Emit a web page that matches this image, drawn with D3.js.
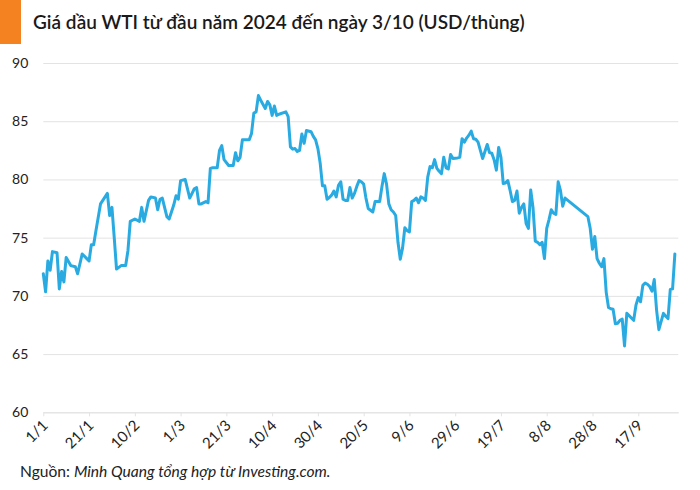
<!DOCTYPE html>
<html>
<head>
<meta charset="utf-8">
<script src="https://cdn.jsdelivr.net/npm/d3@7.9.0/dist/d3.min.js"></script>
<style>
  body { margin: 0; background: #fff; }
  svg { display: block; font-family: Lato, "Open Sans", sans-serif; }
  .axis path, .axis line { stroke: #e3e3e3; }
  .axis text { fill: #222; font-size: 14px; font-family: Lato, sans-serif; }
  .x-axis text { font-size: 15px; }
</style>
</head>
<body>
<svg id="chart" width="700" height="490"></svg>
<script>
// WTI price (USD/barrel), per month: day of month + price
const janDays = [1, 2, 3, 4, 5, 7, 8, 9, 10, 11, 13, 15, 16, 18, 20, 21, 22, 23, 24, 26, 28, 29, 30, 31];
const janWti  = [71.9, 70.35, 73.0, 72.2, 73.8, 73.7, 70.6, 72.1, 71.2, 73.3, 72.6, 72.5, 71.9, 73.6, 73.2, 73.0, 74.4, 74.4, 75.6, 77.9, 78.5, 78.8, 76.9, 77.6];
const febDays = [1, 2, 4, 6, 7, 8, 10, 12, 13, 14, 16, 17, 19, 20, 21, 22, 24, 25, 27, 28, 29];
const febWti  = [75.0, 72.3, 72.6, 72.6, 73.9, 76.4, 76.6, 76.4, 77.6, 76.4, 78.2, 78.5, 78.4, 77.4, 78.3, 78.4, 76.8, 76.6, 77.8, 78.6, 78.3];
const marDays = [1, 3, 5, 7, 8, 9, 10, 12, 13, 14, 15, 17, 18, 19, 20, 22, 24, 25, 26, 27, 28, 30, 31];
const marWti  = [79.9, 80.0, 78.4, 79.2, 79.3, 77.9, 77.9, 78.1, 78.0, 80.95, 81.0, 81.0, 82.5, 82.9, 81.7, 81.2, 81.2, 82.3, 81.6, 81.9, 83.4, 83.4, 83.4];
const aprDays = [1, 2, 3, 4, 5, 7, 8, 9, 10, 11, 12, 13, 16, 17, 18, 19, 20, 21, 22, 23, 24, 25, 27, 28, 29, 30];
const aprWti  = [83.95, 85.7, 85.8, 87.2, 86.8, 86.1, 86.7, 86.4, 85.5, 86.3, 85.5, 85.6, 85.8, 85.4, 82.8, 82.6, 82.65, 82.4, 82.5, 83.9, 83.1, 84.2, 84.1, 83.7, 83.4, 82.65];
const mayDays = [1, 2, 3, 4, 5, 6, 7, 8, 9, 10, 11, 12, 13, 14, 15, 16, 17, 18, 19, 20, 21, 22, 24, 25, 27, 28, 29, 30, 31];
const mayWti  = [81.4, 79.45, 79.45, 78.3, 78.45, 78.65, 79.0, 78.5, 79.5, 79.8, 78.3, 78.2, 78.2, 79.3, 78.4, 78.8, 79.4, 79.9, 79.8, 79.6, 78.4, 77.5, 77.2, 78.1, 78.1, 79.4, 80.5, 79.6, 77.9];
const junDays = [1, 2, 3, 4, 5, 6, 7, 8, 9, 10, 11, 12, 13, 14, 15, 16, 17, 18, 19, 20, 21, 22, 23, 24, 25, 26, 27, 28, 30];
const junWti  = [77.4, 77.2, 76.9, 74.6, 73.15, 74.1, 75.85, 75.6, 75.5, 78.1, 78.2, 78.4, 78.0, 78.5, 78.4, 78.2, 80.2, 81.1, 81.0, 81.7, 80.95, 80.7, 80.5, 81.9, 81.0, 80.9, 82.15, 81.8, 81.85];
const julDays = [1, 2, 3, 4, 5, 6, 7, 8, 9, 10, 11, 12, 13, 14, 15, 16, 17, 18, 19, 20, 21, 22, 23, 24, 25, 26, 27, 28, 29, 30, 31];
const julWti  = [81.9, 83.5, 83.2, 83.55, 83.8, 84.15, 83.5, 83.45, 83.2, 82.5, 81.8, 82.4, 83.0, 82.3, 82.25, 81.7, 80.8, 82.75, 81.9, 79.65, 79.7, 79.9, 79.05, 78.1, 78.2, 79.0, 77.1, 77.6, 77.9, 76.2, 75.8];
const augDays = [1, 2, 3, 4, 5, 6, 7, 8, 9, 10, 11, 12, 13, 14, 15, 16, 26, 27, 28, 29, 30, 31];
const augWti  = [79.1, 77.6, 74.7, 74.6, 74.4, 74.6, 73.2, 75.8, 76.55, 77.4, 77.1, 77.0, 79.8, 79.05, 77.7, 78.4, 76.8, 75.8, 74.0, 75.1, 73.2, 72.8];
const sepDays = [1, 2, 3, 4, 5, 6, 7, 8, 9, 10, 11, 12, 13, 14, 15, 16, 17, 18, 19, 20, 21, 22, 23, 24, 25, 26, 28, 29, 30];
const sepWti  = [72.5, 73.2, 70.3, 69.0, 68.9, 68.85, 67.6, 67.65, 67.9, 68.0, 65.7, 68.5, 68.3, 68.1, 67.9, 69.2, 69.85, 69.5, 70.9, 71.1, 71.0, 70.8, 70.4, 71.4, 68.8, 67.1, 68.5, 68.25, 68.05];
const octDays = [1, 2, 3];
const octWti  = [70.55, 70.6, 73.6];

const yTicks = [60, 65, 70, 75, 80, 85, 90];
const xTickLabels = ['1/1', '21/1', '10/2', '1/3', '21/3', '10/4', '30/4', '20/5', '9/6', '29/6', '19/7', '8/8', '28/8', '17/9'];

const titleText = 'Giá dầu WTI từ đầu năm 2024 đến ngày 3/10 (USD/thùng)';

const monthDays = [janDays, febDays, marDays, aprDays, mayDays, junDays, julDays, augDays, sepDays, octDays];
const monthWti = [janWti, febWti, marWti, aprWti, mayWti, junWti, julWti, augWti, sepWti, octWti];

let series = [];
monthDays.forEach((days, m) => {
    days.forEach((d, i) => series.push({ date: new Date(Date.UTC(2024, m, d)), value: monthWti[m][i] }));
});

const parseDM = d3.utcParse('%d/%m/%Y');
const tickDates = xTickLabels.map((t) => parseDM(t + '/2024'));

let svg = d3.select('#chart');

let x = d3.scaleUtc()
    .domain([new Date(Date.UTC(2024, 0, 1)), new Date(Date.UTC(2024, 9, 4, 12))])
    .range([43.3, 678.3]);
let y = d3.scaleLinear().domain([60, 90]).range([412.3, 63]);

// orange tab + title
svg.append('rect').attr('x', 0).attr('y', 0).attr('width', 21).attr('height', 44).attr('fill', '#f58220');
svg.append('text')
    .attr('x', 33).attr('y', 29)
    .attr('font-size', 19).attr('font-weight', 600).attr('fill', '#1a1a1a')
    .text(titleText);

// y axis with gridlines
let yAxis = svg.append('g')
    .attr('class', 'axis')
    .attr('transform', 'translate(43.3,0)')
    .call(d3.axisLeft(y).tickValues(yTicks).tickSize(-(678.3 - 43.3)).tickPadding(15));
yAxis.select('.domain').remove();
yAxis.selectAll('line').attr('stroke', '#e3e3e3');

// x axis
let xAxis = svg.append('g')
    .attr('class', 'axis x-axis')
    .attr('transform', 'translate(0,412.3)')
    .call(d3.axisBottom(x).tickValues(tickDates).tickSize(4).tickSizeOuter(0)
        .tickFormat((d, i) => xTickLabels[i]));
xAxis.selectAll('text')
    .attr('text-anchor', 'end')
    .attr('dy', null)
    .attr('y', null)
    .attr('transform', 'translate(5,14) rotate(-45)');

// price line
let line = d3.line().x((d) => x(d.date)).y((d) => y(d.value));
svg.append('path')
    .datum(series)
    .attr('d', line)
    .attr('fill', 'none')
    .attr('stroke', '#29abe2')
    .attr('stroke-width', 3)
    .attr('stroke-linejoin', 'round')
    .attr('stroke-linecap', 'round');

// source
let src = svg.append('text').attr('x', 20).attr('y', 477).attr('font-size', 15.6).attr('fill', '#222');
src.append('tspan').text('Nguồn: ');
src.append('tspan').attr('font-style', 'italic').text('Minh Quang tổng hợp từ Investing.com.');
</script>
</body>
</html>
